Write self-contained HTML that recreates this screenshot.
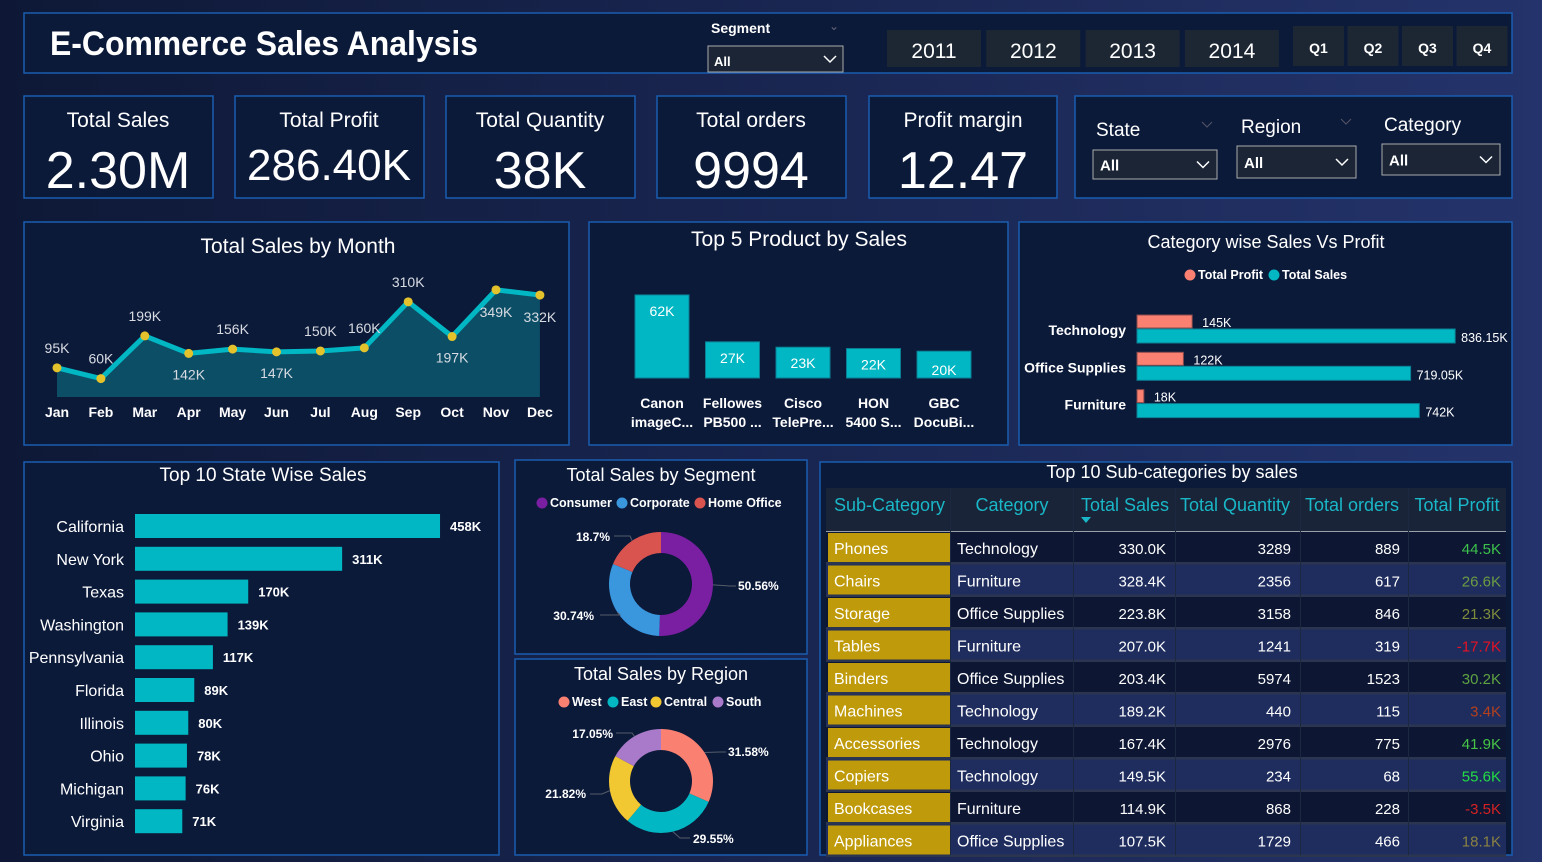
<!DOCTYPE html>
<html><head><meta charset="utf-8">
<style>
html,body{margin:0;padding:0;width:1542px;height:862px;overflow:hidden;background:#16224a;}
svg{display:block;font-family:"Liberation Sans",sans-serif;}
</style></head>
<body>
<svg id="dash" width="1542" height="862" viewBox="0 0 1542 862">
<defs>
<linearGradient id="bg" x1="0" y1="0" x2="1" y2="0">
<stop offset="0" stop-color="#0e1836"/><stop offset="1" stop-color="#24336b"/>
</linearGradient>
</defs>
<rect x="0" y="0" width="1542" height="862" fill="url(#bg)"/>
<g id="panels" fill="#0c1a3a" stroke="#1a5cb0" stroke-width="1.5">
<rect x="24" y="13" width="1488" height="60"/>
<rect x="24" y="96" width="189" height="102"/>
<rect x="235" y="96" width="189" height="102"/>
<rect x="446" y="96" width="189" height="102"/>
<rect x="657" y="96" width="189" height="102"/>
<rect x="869" y="96" width="188" height="102"/>
<rect x="1075" y="96" width="437" height="102"/>
<rect x="24" y="222" width="545" height="223"/>
<rect x="589" y="222" width="419" height="223"/>
<rect x="1019" y="222" width="493" height="223"/>
<rect x="24" y="462" width="475" height="393"/>
<rect x="515" y="460" width="292" height="194"/>
<rect x="515" y="659" width="292" height="196"/>
<rect x="820" y="462" width="692" height="393"/>
</g>
<g fill="#fff">
<text x="50" y="55" font-size="34" font-weight="bold" textLength="428" lengthAdjust="spacingAndGlyphs">E-Commerce Sales Analysis</text>
<text x="711" y="33" font-size="14" font-weight="bold">Segment</text>
<text x="829" y="30" font-size="12" fill="#667">⌄</text>
<g><rect x="708" y="46" width="135" height="26" fill="#1b2536" stroke="#aaa"/><text x="714" y="66" font-size="13" font-weight="bold">All</text><path d="M824 56 l6 6 6-6" fill="none" stroke="#fff" stroke-width="1.5"/></g>
</g>
<g id="years" fill="#fff"></g>
<g id="kpis" fill="#fff"></g>
<g id="filters" fill="#fff"></g>
<g id="month"></g>
<g id="top5"></g>
<g id="cat"></g>
<g id="state"></g>
<g id="seg"></g>
<g id="reg"></g>
<g id="table"></g>
</svg>
<script>
const NS="http://www.w3.org/2000/svg";
function mk(p,t,a,txt){const e=document.createElementNS(NS,t);for(const k in a)e.setAttribute(k,a[k]);if(txt!==undefined)e.textContent=txt;p.appendChild(e);return e;}
function $(id){return document.getElementById(id);}

// ---- data ----
const years=["2011","2012","2013","2014"];
const quarters=["Q1","Q2","Q3","Q4"];
const kpiLabels=["Total Sales","Total Profit","Total Quantity","Total orders","Profit margin"];
const kpiValues=["2.30M","286.40K","38K","9994","12.47"];
const months=["Jan","Feb","Mar","Apr","May","Jun","Jul","Aug","Sep","Oct","Nov","Dec"];
const monthSales=[95,60,199,142,156,147,150,160,310,197,349,332];
const productNames1=["Canon","Fellowes","Cisco","HON","GBC"];
const productNames2=["imageC...","PB500 ...","TelePre...","5400 S...","DocuBi..."];
const productSales=[62,27,23,22,20];
const categories=["Technology","Office Supplies","Furniture"];
const catProfit=[145,122,18];
const catSales=[836.15,719.05,742];
const catSalesLabels=["836.15K","719.05K","742K"];
const states=["California","New York","Texas","Washington","Pennsylvania","Florida","Illinois","Ohio","Michigan","Virginia"];
const stateSales=[458,311,170,139,117,89,80,78,76,71];
const segments=["Consumer","Corporate","Home Office"];
const segmentShare=[50.56,30.74,18.7];
const segmentLabels=["50.56%","30.74%","18.7%"];
const regions=["West","East","Central","South"];
const regionShare=[31.58,29.55,21.82,17.05];
const regionLabels=["31.58%","29.55%","21.82%","17.05%"];
const subCats=["Phones","Chairs","Storage","Tables","Binders","Machines","Accessories","Copiers","Bookcases","Appliances"];
const subCatCategory=["Technology","Furniture","Office Supplies","Furniture","Office Supplies","Technology","Technology","Technology","Furniture","Office Supplies"];
const subSales=["330.0K","328.4K","223.8K","207.0K","203.4K","189.2K","167.4K","149.5K","114.9K","107.5K"];
const subQty=["3289","2356","3158","1241","5974","440","2976","234","868","1729"];
const subOrders=["889","617","846","319","1523","115","775","68","228","466"];
const subProfit=["44.5K","26.6K","21.3K","-17.7K","30.2K","3.4K","41.9K","55.6K","-3.5K","18.1K"];
const profitColors=["#3cc24a","#6c9c42","#7f8c3c","#e81123","#5ea242","#b4401e","#46c446","#22dd44","#d42222","#8a8242"];

// ---- year / quarter slicers ----
const yg=$("years");
years.forEach((y,i)=>{const g=mk(yg,"g",{});


const x=887+i*99.3;mk(g,"rect",{x:x,y:30,width:94,height:37,fill:"#1d2734"});mk(g,"text",{x:x+47,y:58,"font-size":21,"text-anchor":"middle"},y);});
quarters.forEach((q,i)=>{const g=mk(yg,"g",{});


const x=1293+i*54.5;mk(g,"rect",{x:x,y:26,width:51,height:40,fill:"#1d2734"});mk(g,"text",{x:x+25.5,y:53,"font-size":14,"font-weight":"bold","text-anchor":"middle"},q);});

// ---- KPIs ----
const kg=$("kpis");const kx=[24,235,446,657,869];
kpiLabels.forEach((l,i)=>{const cx=kx[i]+94;
const t=mk(kg,"text",{x:cx,y:127,"font-size":21,"text-anchor":"middle"},l);


const v=mk(kg,"text",{x:cx,y:i==1?180:188,"font-size":i==1?44:52,"text-anchor":"middle"},kpiValues[i]);

});

// ---- filters ----
const fg=$("filters");
const fdefs=[["State",1096,136,1093,150,124,29],["Region",1241,133,1237,146,119,32],["Category",1384,131,1382,144,118,31]];
fdefs.forEach((f,i)=>{const t=mk(fg,"text",{x:f[1],y:f[2],"font-size":19},f[0]);


const g=mk(fg,"g",{});


mk(g,"rect",{x:f[3],y:f[4],width:f[5],height:f[6],fill:"#1b2536",stroke:"#aaa"});
mk(g,"text",{x:f[3]+7,y:f[4]+f[6]/2+6,"font-size":15,"font-weight":"bold"},"All");
const ax=f[3]+f[5]-20,ay=f[4]+f[6]/2-3;mk(g,"path",{d:`M${ax} ${ay} l6 6 6-6`,fill:"none",stroke:"#fff","stroke-width":1.5});
if(i<2)mk(fg,"path",{d:`M${f[3]+f[5]-15} ${f[2]-14} l5 5 5-5`,fill:"none",stroke:"#556","stroke-width":1});});

// ---- monthly line chart ----
const mg=$("month");
mk(mg,"text",{x:298,y:253,"font-size":21,fill:"#fff","text-anchor":"middle"},"Total Sales by Month");
const mx=i=>57+i*43.9, my=v=>397-v*0.307;
let pts=monthSales.map((v,i)=>mx(i)+","+my(v)).join(" ");
const area=mk(mg,"polygon",{points:mx(0)+",397 "+pts+" "+mx(11)+",397",fill:"#0b4e66"});


const line=mk(mg,"polyline",{points:pts,fill:"none",stroke:"#00b7c3","stroke-width":5,"stroke-linejoin":"round"});


const below=[false,false,false,true,false,true,false,false,false,true,true,true];
monthSales.forEach((v,i)=>{const c=mk(mg,"circle",{cx:mx(i),cy:my(v),r:4.5,fill:"#e3c22c"});


const ly=below[i]?(i>=10?my(v)+27:my(v)+26):my(v)-15;
const lx=mx(i);
mk(mg,"text",{x:lx,y:ly,"font-size":14,fill:"#d8dbe2","text-anchor":"middle"},v+"K");
const t=mk(mg,"text",{x:mx(i),y:417,"font-size":14,"font-weight":"bold",fill:"#fff","text-anchor":"middle"},months[i]);

});

// ---- top 5 products ----
const pg=$("top5");
mk(pg,"text",{x:799,y:246,"font-size":21,fill:"#fff","text-anchor":"middle"},"Top 5 Product by Sales");
const px=i=>662+i*70.5, ph=v=>v*1.34;
productSales.forEach((v,i)=>{const r=mk(pg,"rect",{x:px(i)-27,y:378-ph(v),width:54,height:ph(v),fill:"#00b7c3",stroke:"#0a7f94"});


mk(pg,"text",{x:px(i),y:378-ph(v)+(i==0?21:(i==4?24:21)),"font-size":14,fill:"#fff","text-anchor":"middle"},v+"K");
mk(pg,"text",{x:px(i),y:408,"font-size":14,"font-weight":"bold",fill:"#fff","text-anchor":"middle"},productNames1[i]);
mk(pg,"text",{x:px(i),y:427,"font-size":14,"font-weight":"bold",fill:"#fff","text-anchor":"middle"},productNames2[i]);});

// ---- category sales vs profit ----
const cg=$("cat");
mk(cg,"text",{x:1266,y:248,"font-size":18,fill:"#fff","text-anchor":"middle"},"Category wise Sales Vs Profit");
mk(cg,"circle",{cx:1190,cy:275,r:5.5,fill:"#fa8072"});mk(cg,"text",{x:1198,y:279,"font-size":12.5,"font-weight":"bold",fill:"#fff"},"Total Profit");
mk(cg,"circle",{cx:1274,cy:275,r:5.5,fill:"#00b7c3"});mk(cg,"text",{x:1282,y:279,"font-size":12.5,"font-weight":"bold",fill:"#fff"},"Total Sales");
const cw=v=>v*0.3805;
categories.forEach((c,i)=>{const y0=315+i*37.3;
mk(cg,"text",{x:1126,y:y0+20,"font-size":14,"font-weight":"bold",fill:"#fff","text-anchor":"end"},c);
const a=mk(cg,"rect",{x:1137,y:y0,width:cw(catProfit[i]),height:13,fill:"#fa8072",stroke:"#8a4a4a"});


mk(cg,"text",{x:1137+cw(catProfit[i])+10,y:y0+12,"font-size":12.5,fill:"#fff"},catProfit[i]+"K");
const b=mk(cg,"rect",{x:1137,y:y0+14,width:cw(catSales[i]),height:14,fill:"#00b7c3",stroke:"#0a7f94"});


mk(cg,"text",{x:1137+cw(catSales[i])+6,y:y0+27,"font-size":12.5,fill:"#fff"},catSalesLabels[i]);});

// ---- state bars ----
const sg=$("state");
mk(sg,"text",{x:263,y:481,"font-size":19,fill:"#fff","text-anchor":"middle"},"Top 10 State Wise Sales");
const sw=v=>v*0.666;
states.forEach((s,i)=>{const cy=526+i*32.8;
mk(sg,"text",{x:124,y:cy+6,"font-size":16,fill:"#fff","text-anchor":"end"},s);
const r=mk(sg,"rect",{x:135,y:cy-12,width:sw(stateSales[i]),height:24,fill:"#00b7c3"});


mk(sg,"text",{x:135+sw(stateSales[i])+10,y:cy+5,"font-size":13,"font-weight":"bold",fill:"#fff"},stateSales[i]+"K");});

// ---- donuts ----
function donut(g,cx,cy,shares,colors,labels,labelPos){
let a0=-Math.PI/2;const R=52,r=31;const tot=shares.reduce((a,b)=>a+b,0);
shares.forEach((s,i)=>{const a1=a0+s/tot*2*Math.PI;const lg=(a1-a0)>Math.PI?1:0;
const p=(rad,a)=>[cx+rad*Math.cos(a),cy+rad*Math.sin(a)];
const [x0,y0]=p(R,a0),[x1,y1]=p(R,a1),[x2,y2]=p(r,a1),[x3,y3]=p(r,a0);
const path=mk(g,"path",{d:`M${x0} ${y0} A${R} ${R} 0 ${lg} 1 ${x1} ${y1} L${x2} ${y2} A${r} ${r} 0 ${lg} 0 ${x3} ${y3}Z`,fill:colors[i]});


const am=(a0+a1)/2;const [ex,ey]=p(R,am);const lp=labelPos[i];
mk(g,"polyline",{points:`${ex},${ey} ${lp[2]},${lp[3]} ${lp[4]},${lp[3]}`,fill:"none",stroke:"#555c6a","stroke-width":1});
mk(g,"text",{x:lp[0],y:lp[1],"font-size":12,"font-weight":"bold",fill:"#fff","text-anchor":lp[5]},labels[i]);
a0=a1;});}
const dg=$("seg");
mk(dg,"text",{x:661,y:481,"font-size":18,fill:"#fff","text-anchor":"middle"},"Total Sales by Segment");
const segColors=["#7b1fa2","#3a96dd","#d9534f"];
let lx=536;segments.forEach((s,i)=>{mk(dg,"circle",{cx:lx+6,cy:503,r:5.5,fill:segColors[i]});const t=mk(dg,"text",{x:lx+14,y:507,"font-size":12.5,"font-weight":"bold",fill:"#fff"},s);lx+=[80,78,0][i];});
donut(dg,661,584,segmentShare,segColors,segmentLabels,[[738,590,730,586,736,"start"],[594,620,620,615,600,"end"],[610,541,630,536,614,"end"]]);
const rg=$("reg");
mk(rg,"text",{x:661,y:680,"font-size":18,fill:"#fff","text-anchor":"middle"},"Total Sales by Region");
const regColors=["#fa8072","#00b7c3","#f2c832","#a97ac9"];
lx=558;regions.forEach((s,i)=>{mk(rg,"circle",{cx:lx+6,cy:702,r:5.5,fill:regColors[i]});const t=mk(rg,"text",{x:lx+14,y:706,"font-size":12.5,"font-weight":"bold",fill:"#fff"},s);lx+=[49,43,62,0][i];});
donut(rg,661,781,regionShare,regColors,regionLabels,[[728,756,720,752,726,"start"],[693,843,680,838,690,"start"],[586,798,602,794,590,"end"],[613,738,632,733,616,"end"]]);

// ---- table ----
const tg=$("table");
mk(tg,"text",{x:1172,y:478,"font-size":18,fill:"#fff","text-anchor":"middle"},"Top 10 Sub-categories by sales");
const hdr=mk(tg,"rect",{x:826,y:488,width:680,height:44,fill:"#1a2438"});


mk(tg,"rect",{x:826,y:531,width:680,height:2,fill:"#9aa0aa"});
const heads=[["Sub-Category",834,"start"],["Category",1012,"middle"],["Total Sales",1081,"start"],["Total Quantity",1235,"middle"],["Total orders",1352,"middle"],["Total Profit",1457,"middle"]];
heads.forEach((h,i)=>{const t=mk(tg,"text",{x:h[1],y:511,"font-size":18,fill:"#19b7c7","text-anchor":h[2]},h[0]);

});
mk(tg,"path",{d:"M1081 517 l10 0 -5 6z",fill:"#19b7c7"});
subCats.forEach((s,i)=>{const y=532+i*32.5;
const row=mk(tg,"g",{});


mk(row,"rect",{x:826,y:y,width:680,height:32.5,fill:i%2?"#1f2d5e":"#0d1633"});
mk(row,"rect",{x:826,y:y+30,width:680,height:2.5,fill:"#2c3550"});
mk(row,"rect",{x:828,y:y+1,width:122,height:29,fill:"#bf9a0a"});
mk(row,"text",{x:834,y:y+22,"font-size":16,fill:"#fff"},s);
mk(row,"text",{x:957,y:y+22,"font-size":16,fill:"#fff"},subCatCategory[i]);
mk(row,"text",{x:1166,y:y+22,"font-size":15,fill:"#fff","text-anchor":"end"},subSales[i]);
mk(row,"text",{x:1291,y:y+22,"font-size":15,fill:"#fff","text-anchor":"end"},subQty[i]);
mk(row,"text",{x:1400,y:y+22,"font-size":15,fill:"#fff","text-anchor":"end"},subOrders[i]);
mk(row,"text",{x:1501,y:y+22,"font-size":15,fill:profitColors[i],"text-anchor":"end"},subProfit[i]);});
[950,1073,1175,1300,1408].forEach(x=>mk(tg,"rect",{x:x,y:488,width:1,height:367,fill:"#1c2740"}));
</script>
</body></html>
